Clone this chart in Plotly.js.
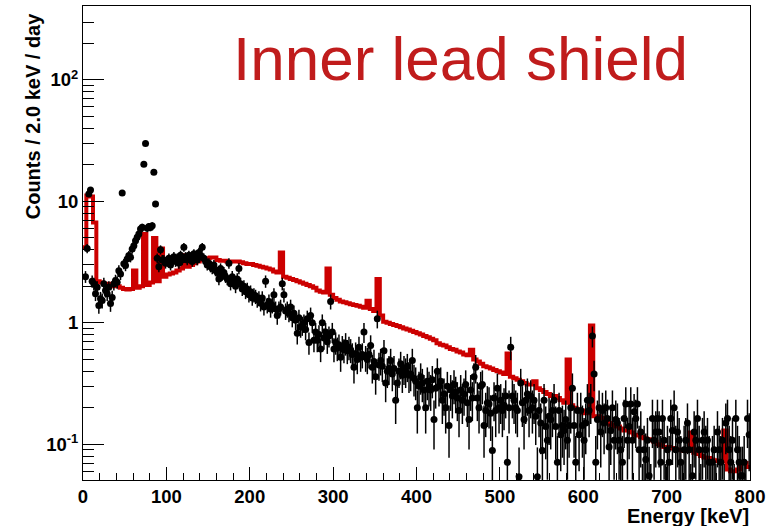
<!DOCTYPE html>
<html>
<head>
<meta charset="utf-8">
<script src="https://cdn.plot.ly/plotly-3.0.1.min.js"></script>
<style>html,body{margin:0;padding:0;background:#fff;}#chart{width:781px;height:526px;}</style>
</head>
<body>
<div id="chart"></div>
<script>
// ---- data (counts / 2.0 keV / day) ----
// black points: measured spectrum, 2 keV bins, centres 1,3,...,799 keV
const dataBinWidth = 2;
const dataRate = [
  null, 2.4, 4.1, 11.5, 12.4, 2.2, 2.1, 1.74, 1.96, 1.39,
  1.58, 1.53, 2.1, 1.85, 1.74, 1.96, 1.44, 1.62, 2.1, 2.23,
  2.16, 2.69, 2.53, 11.7, 3.06, 2.96, 3.36, 3.58, 3.47, 4.06,
  4.32, 4.75, 5.06, 5.4, 5.94, 6.12, 20.2, 30.0, 6.0, 6.2,
  6.1, 6.3, 17.4, 9.5, 3.4, 2.9, 4.0, 3.3, 3.3, 3.1,
  3.2, 3.4, 3.0, 3.3, 3.5, 3.2, 3.4, 3.1, 3.6, 3.3,
  4.2, 3.5, 3.3, 3.6, 3.4, 3.2, 3.7, 3.5, 3.3, 3.8,
  3.6, 4.2, 3.4, 3.2, 3.0, 3.1, 2.9, 2.8, 3.0, 2.7,
  2.6, 2.3, 2.8, 2.5, 2.6, 2.4, 2.3, 3.1, 2.1, 2.4,
  2.2, 2.0, 2.3, 2.8, 2.1, 1.9, 2.0, 1.8, 1.9, 1.7,
  1.8, 1.6, 1.7, 1.65, 1.55, 1.6, 1.45, 1.6, 1.35, 2.2,
  1.4, 1.5, 1.3, 1.4, 1.7, 1.3, 1.15, 1.3, 1.35, 2.1,
  1.7, 1.25, 1.3, 1.2, 1.35, 1.1, 1.2, 1.05, 0.82, 1.1,
  0.92, 0.95, 1.0, 0.88, 1.08, 0.69, 1.15, 1.0, 0.72, 0.84,
  0.72, 0.8, 0.61, 1.0, 0.75, 0.84, 0.7, 0.78, 1.5, 0.84,
  0.61, 0.69, 0.62, 0.66, 0.52, 0.64, 0.6, 0.68, 0.59, 0.63,
  0.6, 0.55, 0.43, 0.56, 0.5, 0.63, 0.52, 0.55, 0.84, 0.52,
  0.5, 0.55, 0.65, 0.43, 0.48, 0.36, 1.08, 0.45, 0.49, 0.44,
  0.59, 0.32, 0.40, 0.42, 0.49, 0.38, 0.42, 0.23, 0.32, 0.4,
  0.46, 0.37, 0.42, 0.4, 0.44, 0.37, 0.38, 0.49, 0.35, 0.33,
  0.20, 0.3, 0.36, 0.32, 0.28, 0.20, 0.33, 0.3, 0.28, 0.34,
  0.16, 0.29, 0.40, 0.3, 0.33, 0.23, 0.26, 0.2, 0.3, 0.143,
  0.28, 0.25, 0.31, 0.27, 0.24, 0.19, 0.28, 0.23, 0.26, 0.31,
  0.22, 0.16, 0.28, 0.24, 0.36, 0.43, 0.24, 0.2, 0.30, 0.31,
  0.143, 0.19, 0.22, 0.215, 0.18, 0.089, 0.24, 0.19, 0.29, 0.2,
  0.23, 0.19, 0.21, 0.25, 0.071, 0.2, 0.63, 0.25, 0.23, 0.2,
  0.19, 0.054, 0.32, 0.22, 0.16, 0.23, 0.26, 0.19, 0.25, 0.2,
  0.23, 0.17, 0.054, 0.19, 0.15, 0.089, 0.23, 0.14, 0.108, 0.17,
  0.16, 0.19, 0.23, 0.14, 0.071, 0.19, 0.12, 0.143, 0.13, 0.16,
  0.108, 0.143, 0.2, 0.29, 0.143, 0.071, 0.19, 0.12, 0.19, 0.143,
  0.108, 0.15, 0.23, 0.19, 0.23, 0.78, 0.38, 0.071, 0.16, 0.2,
  0.126, 0.19, 0.15, 0.2, 0.163, 0.095, 0.13, 0.2, 0.108, 0.16,
  0.15, 0.108, 0.09, 0.071, 0.163, 0.215, 0.108, 0.14, 0.215, 0.108,
  0.185, 0.163, 0.215, 0.09, 0.126, 0.036, 0.09, 0.075, 0.108, 0.055,
  0.036, 0.163, 0.108, 0.126, 0.163, 0.126, 0.071, 0.163, 0.108, 0.036,
  0.09, 0.071, 0.163, 0.13, 0.2, 0.09, 0.126, 0.108, 0.071, 0.036,
  0.09, 0.108, 0.15, 0.09, 0.036, 0.055, 0.126, 0.108, 0.163, 0.09,
  0.036, 0.108, 0.126, 0.09, 0.108, 0.071, 0.036, 0.071, 0.09, 0.036,
  0.126, 0.09, 0.071, 0.108, 0.036, 0.15, 0.163, 0.09, 0.071, 0.108,
  0.036, 0.163, 0.09, 0.071, 0.055, 0.055, 0.071, 0.036, 0.163, 0.12
];
// rate per single count (for Poisson error bars)
const ratePerCount = 0.03;

// red histogram: simulation, 4 keV bins starting at 0,4,...,796 keV
const simBinWidth = 4;
const simRate = [
  4.2, 11.2, 11.0, 6.7, 2.2, 2.15, 2.1, 2.1, 2.05, 2.0,
  2.0, 1.95, 1.9, 1.88, 1.9, 2.7, 1.95, 2.0, 5.4, 2.05,
  2.15, 5.0, 2.2, 4.1, 2.4, 2.5, 2.55, 2.6, 2.7, 2.8,
  3.6, 2.9, 3.0, 3.1, 3.2, 3.3, 3.35, 3.4, 3.45, 3.45,
  3.3, 3.25, 3.25, 3.2, 3.2, 3.2, 3.2, 3.15, 3.1, 3.05,
  3.05, 3.0, 2.95, 2.9, 2.85, 2.8, 2.75, 2.65, 2.6, 3.8,
  2.4, 2.35, 2.3, 2.25, 2.2, 2.15, 2.1, 2.05, 2.0, 1.95,
  1.85, 1.8, 1.78, 2.8, 1.7, 1.6, 1.55, 1.5, 1.48, 1.45,
  1.42, 1.4, 1.38, 1.36, 1.33, 1.52, 1.3, 1.25, 2.3, 1.15,
  1.02, 1.0, 0.98, 0.96, 0.94, 0.92, 0.9, 0.88, 0.86, 0.84,
  0.82, 0.8, 0.78, 0.76, 0.74, 0.72, 0.68, 0.66, 0.65, 0.63,
  0.61, 0.6, 0.58, 0.57, 0.55, 0.54, 0.6, 0.5, 0.48, 0.46,
  0.44, 0.43, 0.42, 0.41, 0.4, 0.39, 0.38, 0.56, 0.36, 0.35,
  0.34, 0.33, 0.32, 0.31, 0.31, 0.33, 0.29, 0.28, 0.27, 0.26,
  0.25, 0.25, 0.24, 0.23, 0.22, 0.5, 0.21, 0.2, 0.19, 0.19,
  0.18, 0.18, 0.95, 0.17, 0.17, 0.165, 0.16, 0.15, 0.145, 0.14,
  0.14, 0.135, 0.13, 0.13, 0.125, 0.12, 0.118, 0.115, 0.112, 0.11,
  0.108, 0.105, 0.1, 0.098, 0.095, 0.095, 0.093, 0.092, 0.09, 0.09,
  0.088, 0.088, 0.125, 0.085, 0.083, 0.08, 0.078, 0.077, 0.075, 0.074,
  0.073, 0.072, 0.13, 0.062, 0.06, 0.06, 0.062, 0.07, 0.07, 0.065
];

// axis ticks
const xTickVals = [0, 100, 200, 300, 400, 500, 600, 700, 800];
const xTickText = ['0', '100', '200', '300', '400', '500', '600', '700', '800'];
const yTickVals = [0.1, 1, 10, 100];
const yTickText = ['10<sup>-1</sup>', '1', '10', '10<sup>2</sup>'];
const yMinorVals = [0.06, 0.07, 0.08, 0.09, 0.2, 0.3, 0.4, 0.5, 0.6, 0.7, 0.8, 0.9,
  2, 3, 4, 5, 6, 7, 8, 9, 20, 30, 40, 50, 60, 70, 80, 90, 200, 300, 400];

const titleText = 'Inner lead shield';
const xTitle = 'Energy [keV]';
const yTitle = 'Counts / 2.0 keV / day';

// ---- build traces ----
const dataE = dataRate.map((_, i) => (i + 0.5) * dataBinWidth);
const errUp = dataRate.map(v => v == null ? null : Math.sqrt(v * ratePerCount));
const errDn = dataRate.map((v, i) => v == null ? null : Math.min(errUp[i], v * 0.999));

const simEdges = simRate.map((_, i) => i * simBinWidth);
const simX = simEdges.concat([simRate.length * simBinWidth]);
const simY = simRate.concat([simRate[simRate.length - 1]]);

const FONT = 'Liberation Sans, Arial, Helvetica, sans-serif';

const traces = [
  {
    x: simX, y: simY, type: 'scatter', mode: 'lines',
    line: {shape: 'hv', color: '#cc0000', width: 4},
    hoverinfo: 'skip'
  },
  {
    x: dataE, y: dataRate, type: 'scatter', mode: 'markers',
    marker: {color: 'black', size: 7, symbol: 'circle'},
    error_y: {type: 'data', array: errUp, arrayminus: errDn, symmetric: false,
      color: 'black', thickness: 1.5, width: 0},
    cliponaxis: true
  }
];

const layout = {
  width: 781, height: 526,
  margin: {l: 83, r: 31, t: 6, b: 46, pad: 0},
  paper_bgcolor: 'white', plot_bgcolor: 'white',
  showlegend: false,
  font: {family: FONT, color: 'black'},
  xaxis: {
    range: [0, 800], showgrid: false, zeroline: false,
    showline: true, mirror: true, linecolor: 'black', linewidth: 1,
    ticks: 'inside', ticklen: 13, tickwidth: 1, tickcolor: 'black',
    tickmode: 'array', tickvals: xTickVals, ticktext: xTickText,
    tickfont: {family: FONT, size: 18.5, weight: 'bold', color: 'black'},
    minor: {ticks: 'inside', ticklen: 7, tickwidth: 1, tickcolor: 'black', dtick: 20, tick0: 0, showgrid: false}
  },
  yaxis: {
    type: 'log', range: [-1.294, 2.609], showgrid: false, zeroline: false,
    showline: true, mirror: true, linecolor: 'black', linewidth: 1,
    ticks: 'inside', ticklen: 21, tickwidth: 1, tickcolor: 'black',
    tickmode: 'array', tickvals: yTickVals, ticktext: yTickText,
    tickfont: {family: FONT, size: 18.5, weight: 'bold', color: 'black'},
    minor: {ticks: 'inside', ticklen: 11, tickwidth: 1, tickcolor: 'black',
      tickmode: 'array', tickvals: yMinorVals, showgrid: false}
  },
  annotations: [
    {text: titleText, xref: 'paper', yref: 'paper', x: 0.222, y: 0.890,
      xanchor: 'left', yanchor: 'middle', showarrow: false,
      font: {family: FONT, size: 62, color: '#c01c1c'}},
    {text: yTitle, xref: 'paper', yref: 'paper', x: -0.075, y: 0.992,
      xanchor: 'center', yanchor: 'top', textangle: -90, showarrow: false,
      font: {family: FONT, size: 20, weight: 'bold', color: 'black'}},
    {text: xTitle, xref: 'paper', yref: 'paper', x: 1.0015, y: -0.075,
      xanchor: 'right', yanchor: 'middle', showarrow: false,
      font: {family: FONT, size: 20, weight: 'bold', color: 'black'}}
  ]
};

Plotly.newPlot('chart', traces, layout, {displayModeBar: false, staticPlot: true});
</script>
</body>
</html>
